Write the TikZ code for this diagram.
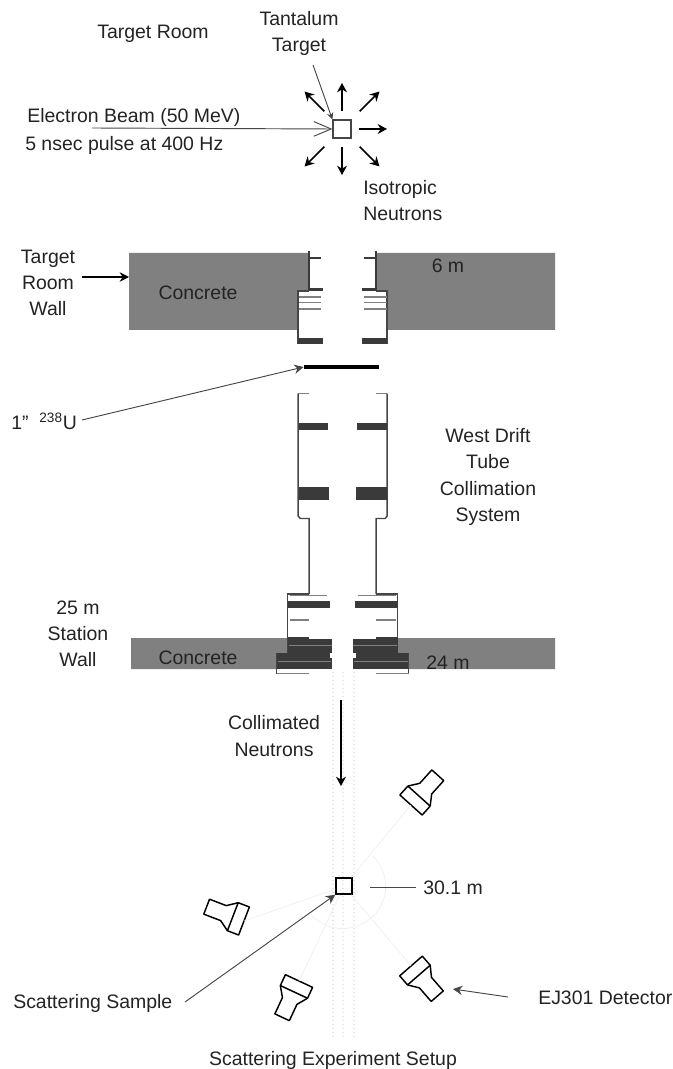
\documentclass[tikz,border=0pt]{standalone}
\usepackage{fontspec}
\setmainfont{Liberation Sans}
\usetikzlibrary{arrows.meta, calc}
\definecolor{WallGray}{RGB}{128,128,128}
\definecolor{BarDark}{RGB}{58,58,58}
\definecolor{TubeGray}{RGB}{70,70,70}
\definecolor{InkDark}{RGB}{35,35,35}

\begin{document}
\begin{tikzpicture}[x=0.75pt, y=-0.75pt,
          lbl/.style={font=\fontsize{14.6}{19.6}\selectfont, align=center, inner sep=0pt, text=InkDark},
          thinarr/.style={-{Stealth[length=7pt, width=7pt]}, line width=0.7pt, TubeGray},
          fatarr/.style={-{Stealth[length=7pt, width=7.5pt]}, line width=1.2pt, black},
          bar/.style={fill=BarDark, draw=none},
          tube/.style={line width=1.1pt, TubeGray},
          slat/.style={line width=1pt, gray},
          faint/.style={line width=0.5pt, black!7},
          dotln/.style={line width=1pt, black!10, dash pattern=on 1pt off 2pt},
          box/.style={draw=TubeGray, fill=white, line width=1pt, inner sep=0pt, minimum size=13pt},
          detector/.pic={
            \coordinate (-face) at (0,0);
            \draw[line width=1.1pt, black, line join=round]
              (0,-15) -- (12,-15) -- (12,15) -- (0,15) -- cycle;
            \draw[line width=1.1pt, black, line join=round]
              (12,-15) -- (22,-8) -- (40,-8) -- (40,8) -- (22,8) -- (12,15);
          }
        ]
        \useasboundingbox (0,0) rectangle (673,1069);

        % Beam lines at the sample
        \foreach \bx in {333,343,354}
          \draw[dotln] (\bx,672) -- (\bx,1040);

        % Walls and collimator, mirrored about the beam axis
        \foreach \s/\ea/\eb in {-1/213.7/211.7, 1/212.3/212.3}{
          \begin{scope}[shift={(342.7,0)}, xscale=\s]
            \fill[WallGray] (33.5,253) -- (\ea,253) -- (\ea,330) -- (44.5,330)
              -- (44.5,291) -- (33.5,291) -- cycle;
            \fill[WallGray] (55,638) -- (\eb,638) -- (\eb,669) -- (66,669)
              -- (66,653) -- (55,653) -- cycle;
            % Target room wall
            \draw[line width=1.5pt, BarDark] (33.5,251) -- (33.5,291);
            \draw[line width=1.3pt, BarDark] (33.5,258) -- (21.5,258);
            \fill[BarDark] (33.5,288) rectangle (19.5,291.5);
            \draw[tube, line width=1.4pt] (44.5,344) -- (44.5,291) -- (33.5,291);
            \foreach \sy in {297,302.5,309}
              \draw[slat] (44,\sy) -- (21.5,\sy);
            \fill[BarDark] (44.5,338) rectangle (19.5,344.5);
            % Drift tube
            \draw[slat, line width=0.8pt] (33.5,393.5) -- (44.5,393.5);
            \draw[tube] (44.5,393.5) -- (44.5,516) -- (42.5,518.5) -- (33.5,518.5) -- (33.5,594);
            \fill[bar] (44,423) rectangle (14.7,429.5);
            \fill[bar] (44,487) rectangle (13.7,500);
            % Station wall stack
            \draw[tube] (33.5,594) -- (55,594) -- (55,653);
            \draw[slat, line width=0.9pt] (53,595.8) -- (15.5,595.8);
            \fill[bar] (55,601) rectangle (12.7,608);
            \draw[slat, line width=0.9pt] (53,620) -- (33.5,620);
            \fill[bar] (55,637) rectangle (33.5,640);
            \fill[bar] (55,638.5) rectangle (10.7,653);
            \fill[bar] (66,653) rectangle (13,658);
            \fill[bar] (66,658) rectangle (10.7,669);
            \draw[line width=0.5pt, gray] (54,645.5) -- (10.7,645.5);
            \draw[line width=0.5pt, gray] (65,661) -- (11.5,661);
            \draw[tube] (66,653) -- (66,674);
            \draw[slat, line width=0.9pt] (66,673.5) -- (33.5,673.5);
          \end{scope}
        }

        % Target and sample
        \node[box, minimum size=13.5pt] (tgt) at (342,129) {};
        \node[box, draw=black, line width=1.1pt, fill=none, minimum size=12pt] (smp) at (344,886) {};
        \node[fill=black, inner sep=0pt, minimum width=56.5pt, minimum height=3.4pt] (urn) at (341.5,367) {};

        % Isotropic neutrons
        \foreach \a/\ri/\ro in {0/17/45, 45/25/53, 90/18/46, 135/25/53,
                                225/25/53, 270/18/46, 315/25/53}
          \draw[fatarr] ($(tgt)+(\a:\ri)$) -- ($(tgt)+(\a:\ro)$);

        % Detectors
        \pic[rotate=48]  (dtr) at (411,805)  {detector};
        \pic[rotate=-49] (dbr) at (411,966)  {detector};
        \pic[rotate=159] (dlf) at (244,921)  {detector};
        \pic[rotate=245] (dbt) at (299,981)  {detector};
        \foreach \d in {dtr,dbr,dlf,dbt}
          \draw[faint] (smp) -- (\d-face);
        \draw[faint] (373,856) arc (-45:45:43);
        \draw[faint] (373,916) arc (45:135:43);

        % Labels
        \node[lbl] (rom) at (153,34) {Target Room};
        \node[lbl] (tan) at (299,33.5) {Tantalum\\Target};
        \node[lbl, anchor=west] (ebm) at (27,117) {Electron Beam (50 MeV)};
        \node[lbl, anchor=west] (pls) at (25,145) {5 nsec pulse at 400 Hz};
        \node[lbl, align=left, anchor=west] (iso) at (363,200.5) {Isotropic\\Neutrons};
        \node[lbl] (trw) at (48,283) {Target\\Room\\Wall};
        \node[lbl] (cn1) at (198,293) {Concrete};
        \node[lbl] (six) at (448,266) {6 m};
        \node[lbl, anchor=west] (ulb) at (11,421) {1"\ \ \textsuperscript{238}U};
        \node[lbl] (wdt) at (488,477) {West Drift\\Tube\\Collimation\\System};
        \node[lbl] (stn) at (78,634) {25 m\\Station\\Wall};
        \node[lbl] (cn2) at (198,658) {Concrete};
        \node[lbl] (twf) at (448,663) {24 m};
        \node[lbl] (col) at (274,736) {Collimated\\Neutrons};
        \node[lbl, anchor=west] (dst) at (423,888) {30.1 m};
        \node[lbl, anchor=west] (sam) at (13,1003) {Scattering Sample};
        \node[lbl, anchor=west] (ejd) at (538,998) {EJ301 Detector};
        \node[lbl] (stp) at (333,1060) {Scattering Experiment Setup};

        \coordinate (bmt) at (92,128);
        \coordinate (wtl) at (82,277);
        \coordinate (wtp) at (129,277);
        \coordinate (tnt) at (313,65);
        \coordinate (utl) at (82,420);
        \coordinate (cna) at (341,700);
        \coordinate (cnb) at (341,786);
        \coordinate (smt) at (185,1002);
        \coordinate (ejt) at (508,997);
        \coordinate (ejh) at (453,989);
        \coordinate (dsl) at (370,887);
        \coordinate (dsr) at (416,887);

        % Pointer lines
        \draw[-{Straight Barb[length=13pt, width=11pt]}, line width=0.7pt, TubeGray] (bmt) -- (tgt.west);
        \draw[thinarr, -{Stealth[length=5pt, width=5pt]}] (tnt) -- (tgt.north west);
        \draw[thinarr, black, line width=0.9pt] (wtl) -- (wtp);
        \draw[thinarr] (utl) -- (urn.west);
        \draw[fatarr] (cna) -- (cnb);
        \draw[thinarr] (smt) -- (smp.south west);
        \draw[thinarr] (ejt) -- (ejh);
        \draw[line width=0.7pt, TubeGray] (dsl) -- (dsr);
      \end{tikzpicture}
\end{document}
